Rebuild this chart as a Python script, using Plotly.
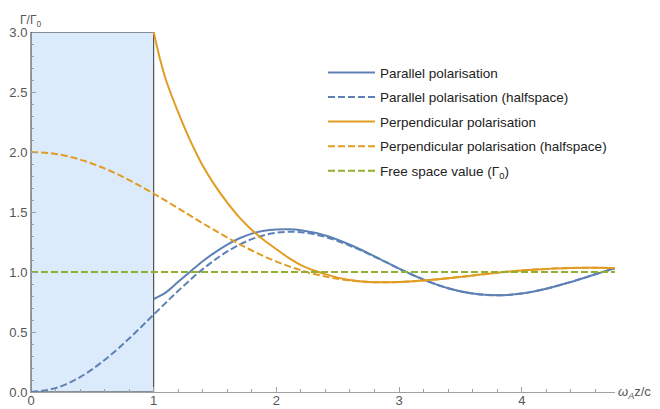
import plotly.graph_objects as go

# ---- data ----
x_half = [0.0, 0.2, 0.4, 0.6, 0.8, 1.0, 1.2, 1.4, 1.6, 1.8, 2.0, 2.2, 2.4, 2.6, 2.8,
          3.0, 3.2, 3.4, 3.6, 3.8, 4.0, 4.2, 4.4, 4.6, 4.76]
par_half = [0.0, 0.032, 0.124, 0.267, 0.446, 0.645, 0.843, 1.024, 1.171, 1.274, 1.327,
            1.332, 1.292, 1.219, 1.127, 1.028, 0.937, 0.865, 0.820, 0.806, 0.821, 0.861,
            0.917, 0.981, 1.031]
perp_half = [2.0, 1.984, 1.937, 1.863, 1.766, 1.653, 1.531, 1.406, 1.287, 1.179, 1.087,
             1.014, 0.962, 0.929, 0.915, 0.916, 0.929, 0.948, 0.971, 0.994, 1.013, 1.026,
             1.034, 1.035, 1.033]

x_par = [1.0, 1.1, 1.2, 1.3, 1.4, 1.5, 1.6, 1.7, 1.8, 1.9, 2.0, 2.1, 2.2, 2.4, 2.6, 2.8,
         3.0, 3.2, 3.4, 3.6, 3.8, 4.0, 4.2, 4.4, 4.6, 4.76]
par_full = [0.775, 0.83, 0.918, 1.005, 1.090, 1.164, 1.229, 1.281, 1.320, 1.343, 1.354,
            1.356, 1.348, 1.304, 1.227, 1.131, 1.028, 0.937, 0.865, 0.820, 0.806, 0.821,
            0.861, 0.917, 0.981, 1.031]

x_perp = [1.0, 1.05, 1.1, 1.2, 1.3, 1.4, 1.5, 1.6, 1.7, 1.8, 1.9, 2.0, 2.1, 2.2, 2.3, 2.4,
          2.5, 2.6, 2.7, 2.8, 3.0, 3.2, 3.4, 3.6, 3.8, 4.0, 4.2, 4.4, 4.6, 4.76]
perp_full = [3.0, 2.78, 2.60, 2.33, 2.09, 1.885, 1.72, 1.578, 1.453, 1.35, 1.265, 1.19,
             1.118, 1.058, 1.015, 0.982, 0.953, 0.933, 0.921, 0.915, 0.916, 0.929, 0.948,
             0.971, 0.994, 1.013, 1.026, 1.034, 1.035, 1.033]

x_free = [0.0, 4.76]
free_space = [1.0, 1.0]

region_x = [0.0, 1.0]
region_y = [0.0, 3.0]

names = ["Parallel polarisation", "Parallel polarisation (halfspace)",
         "Perpendicular polarisation", "Perpendicular polarisation (halfspace)",
         "Free space value (Γ<sub>0</sub>)"]

BLUE = "#5E81B5"
ORANGE = "#E19C24"
GREEN = "#8FB032"
DASH = "7px,3px"
FONT = "Liberation Sans, Arial, sans-serif"

fig = go.Figure()
series = [
    (x_par, par_full, BLUE, "solid"),
    (x_half, par_half, BLUE, DASH),
    (x_perp, perp_full, ORANGE, "solid"),
    (x_half, perp_half, ORANGE, DASH),
    (x_free, free_space, GREEN, DASH),
]
for i, (xs, ys, c, d) in enumerate(series):
    fig.add_trace(go.Scatter(
        x=xs, y=ys, mode="lines", name=names[i], legendgroup=f"g{i}",
        line=dict(color=c, width=2, dash=d, shape="spline", smoothing=1.0),
    ))

fig.add_shape(type="rect", xref="x", yref="y",
              x0=region_x[0], x1=region_x[1], y0=region_y[0], y1=region_y[1],
              fillcolor="#DCEBFB", line=dict(color="#333333", width=1), layer="below")

tick_font = dict(family=FONT, size=13, color="#555555")
axis_common = dict(
    showgrid=False, zeroline=False, showline=True, linecolor="#A0A0A0", linewidth=1,
    ticks="inside", tickcolor="#A0A0A0", ticklen=5, tickwidth=1,
    tickfont=tick_font, automargin=False,
)
fig.update_xaxes(range=[0, 4.76], tick0=0, dtick=1, tickformat="d", ticklabelstandoff=-4,
                 minor=dict(dtick=0.2, ticks="inside", ticklen=3, tickcolor="#A0A0A0"),
                 **axis_common)
fig.update_yaxes(range=[0, 3.0], tick0=0, dtick=0.5, tickformat=".1f",
                 minor=dict(dtick=0.1, ticks="inside", ticklen=3, tickcolor="#A0A0A0"),
                 **axis_common)

fig.add_annotation(text="Γ/Γ<sub>0</sub>", xref="paper", yref="paper", x=0, y=1,
                   xanchor="center", yanchor="bottom", yshift=1, showarrow=False,
                   font=dict(family=FONT, size=12, color="#555555"))
fig.add_annotation(text="<i>ω</i><sub><i>A</i></sub>z/c", xref="paper", yref="paper", x=1, y=0,
                   xanchor="left", yanchor="middle", xshift=1, showarrow=False,
                   font=dict(family=FONT, size=13, color="#555555"))

# the page body adds an 8px margin, so the figure is 8px smaller on each axis
fig.update_layout(
    width=652, height=401,
    margin=dict(l=23, r=45, t=24, b=17),
    paper_bgcolor="white", plot_bgcolor="white",
    showlegend=True,
    legend=dict(x=0.50, y=0.93, xanchor="left", yanchor="top",
                traceorder="grouped", tracegroupgap=4, itemwidth=47,
                bgcolor="rgba(0,0,0,0)",
                font=dict(family=FONT, size=13.5, color="#222222")),
)

fig.write_html("out.html")
